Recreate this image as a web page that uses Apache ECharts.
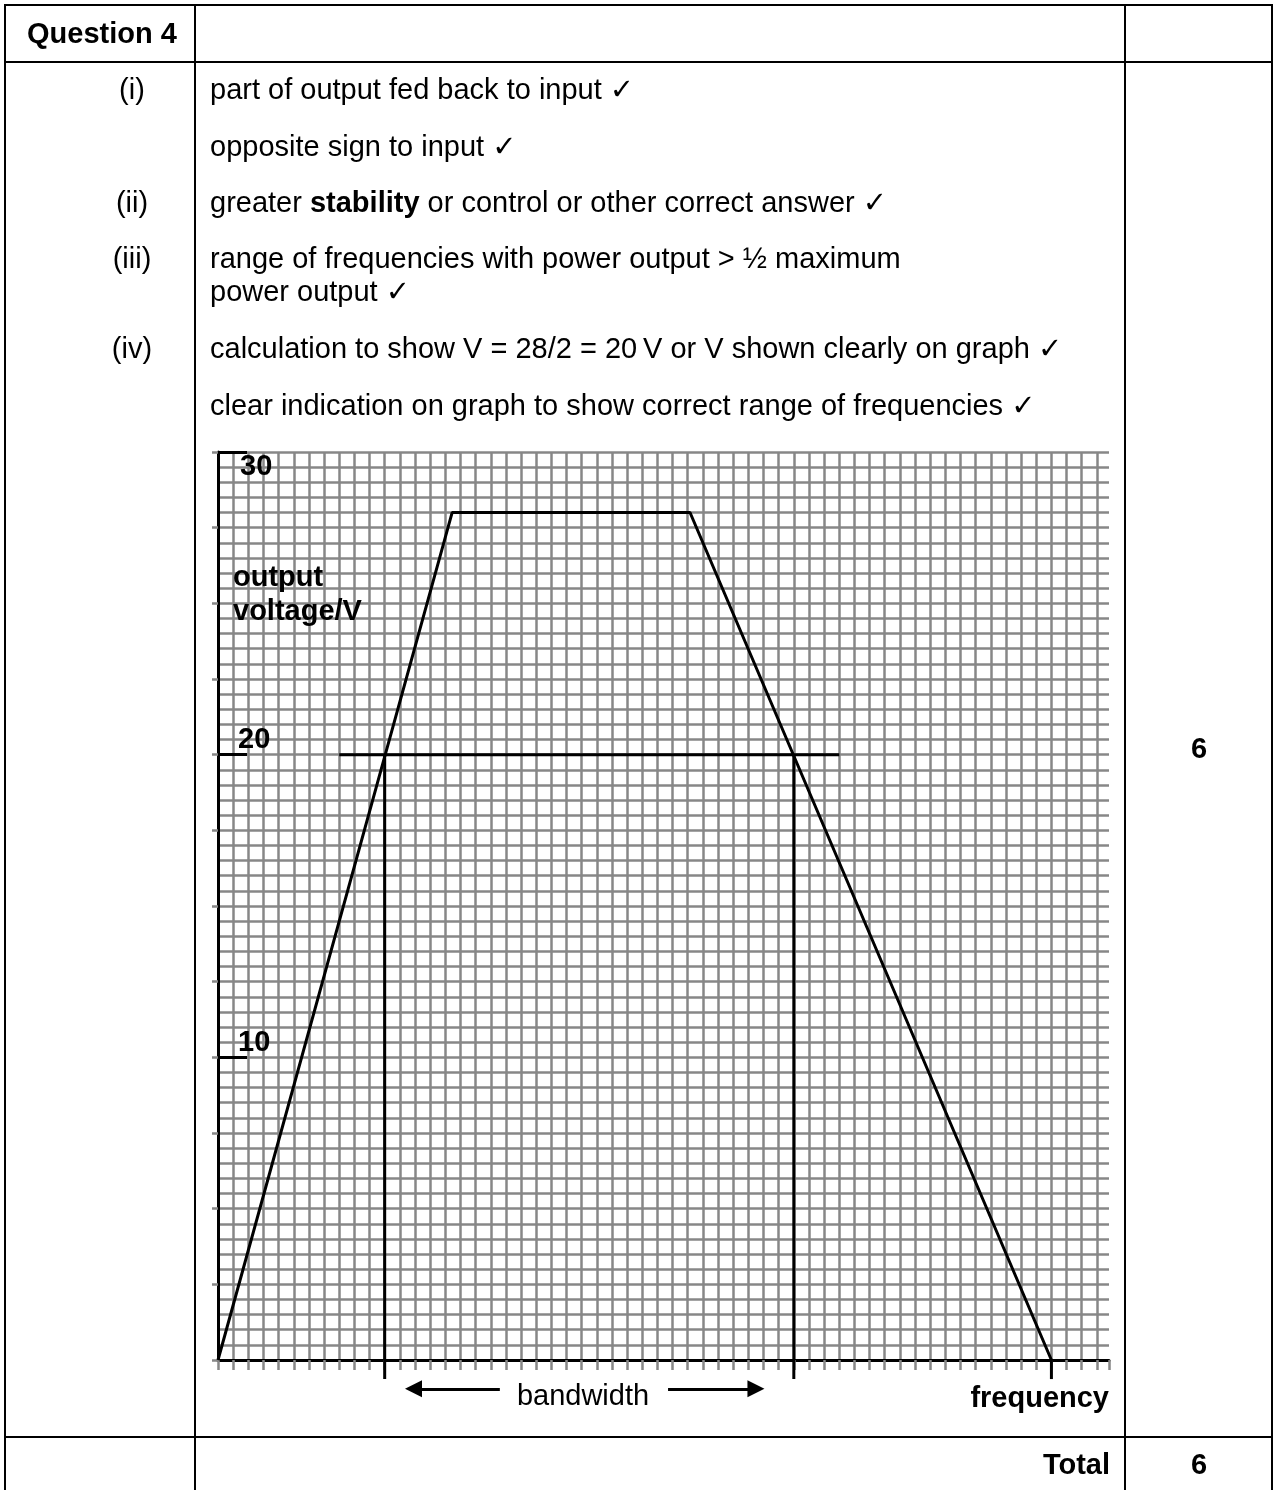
<!DOCTYPE html>
<html>
<head>
<meta charset="utf-8">
<title>Question 4</title>
<script src="https://cdn.jsdelivr.net/npm/echarts@6/dist/echarts.min.js"></script>
<style>
  html, body { margin: 0; padding: 0; background: #fff; }
  #main { width: 1274px; height: 1490px; }
</style>
</head>
<body>
<div id="main"></div>
<script>
// response curve: frequency in grid squares, output voltage in V
var freq = [0, 15.45, 31.15, 55];
var volt = [0, 28, 28, 0];
// half power construction line and the bandwidth edges
var halfX = [8, 41];
var halfV = 20;
var bandEdges = [11, 38];
var endFreq = 55;
var dropTo = -0.63;
// bandwidth arrows [tail, head]
var arrowY = -0.95;
var arrowLeft = [18.6, 12.9];
var arrowRight = [29.7, 35.5];
// axes
var xMax = 58.8;
var yMax = 30;
var yLabels = [10, 20, 30];

// table text
var partLabels = ['(i)', '(ii)', '(iii)', '(iv)'];
var answerLines = [
  'part of output fed back to input \u2713',
  'opposite sign to input \u2713',
  'greater {b|stability} or control or other correct answer \u2713',
  'range of frequencies with power output > \u00bd maximum',
  'power output \u2713',
  'calculation to show V = 28/2 = 20\u2009V or V shown clearly on graph \u2713',
  'clear indication on graph to show correct range of frequencies \u2713'
];
var marks = '6';
var totalMarks = '6';

var FONT = "'Liberation Sans', Arial, 'DejaVu Sans', sans-serif";
var FS = 29;
var gridColor = '#878787';

var chart = echarts.init(document.getElementById('main'));

function txt(x, y, text, opts) {
  opts = opts || {};
  var style = {
    text: text,
    fill: '#000',
    fontSize: FS,
    fontFamily: FONT,
    fontWeight: opts.bold ? 'bold' : 'normal',
    align: opts.align || 'left',
    textAlign: opts.align || 'left',
    verticalAlign: 'middle',
    textVerticalAlign: 'middle'
  };
  if (opts.lineHeight) style.lineHeight = opts.lineHeight;
  if (opts.rich) style.rich = opts.rich;
  return { type: 'text', x: x, y: y, z: 10, style: style };
}

function hline(y, x1, x2) {
  return { type: 'line', z: 10, shape: { x1: x1, y1: y, x2: x2, y2: y }, style: { stroke: '#000', lineWidth: 2 } };
}
function vline(x, y1, y2) {
  return { type: 'line', z: 10, shape: { x1: x, y1: y1, x2: x, y2: y2 }, style: { stroke: '#000', lineWidth: 2 } };
}

var rowY = [91, 148, 204, 260, 293, 350, 407];
var labelRows = [0, 2, 3, 5];

var graphics = [
  hline(5, 4, 1273), hline(62, 4, 1273), hline(1437, 4, 1273),
  vline(5, 4, 1490), vline(195, 4, 1490), vline(1125, 4, 1490), vline(1272, 4, 1490),
  txt(27, 35, 'Question 4', { bold: true }),
  txt(1199, 750, marks, { bold: true, align: 'center' }),
  txt(1110, 1466, 'Total', { bold: true, align: 'right' }),
  txt(1199, 1466, totalMarks, { bold: true, align: 'center' }),
  txt(233, 595, 'output\nvoltage/V', { bold: true, lineHeight: 34 }),
  txt(583, 1397, 'bandwidth', { align: 'center' }),
  txt(1109, 1399, 'frequency', { bold: true, align: 'right' })
];
partLabels.forEach(function (p, i) {
  graphics.push(txt(132, rowY[labelRows[i]], p, { align: 'center' }));
});
answerLines.forEach(function (a, i) {
  graphics.push(txt(210, rowY[i], a, {
    rich: { b: { fontSize: FS, fontFamily: FONT, fontWeight: 'bold', fill: '#000' } }
  }));
});

var blackLine = { color: '#000', width: 3 };

chart.setOption({
  animation: false,
  backgroundColor: '#fff',
  grid: { left: 218, top: 452, width: 891, height: 908, containLabel: false, outerBoundsMode: 'none' },
  xAxis: [{
    type: 'value', min: 0, max: xMax, interval: 1,
    axisLine: { show: true, onZero: false, lineStyle: blackLine },
    axisTick: { show: true, length: 10, lineStyle: { color: gridColor, width: 2.5 } },
    axisLabel: { show: false },
    splitLine: { show: true, showMinLine: false, showMaxLine: false, lineStyle: { color: gridColor, width: 2.5 } }
  }],
  yAxis: [{
    // fine grid
    type: 'value', position: 'left', offset: 0, min: 0, max: yMax, interval: 0.5,
    axisLine: { show: true, onZero: false, lineStyle: blackLine },
    axisTick: { show: false },
    axisLabel: { show: false },
    splitLine: { show: true, showMinLine: false, lineStyle: { color: gridColor, width: 2.5 } }
  }, {
    // small outside ticks every 2.5 V
    type: 'value', position: 'left', offset: 0, min: 0, max: yMax, interval: 2.5,
    axisLine: { show: false },
    axisTick: { show: true, length: 6, lineStyle: { color: gridColor, width: 2.5 } },
    axisLabel: { show: false },
    splitLine: { show: false }
  }, {
    // major ticks and 10 / 20 labels
    type: 'value', position: 'left', offset: 0, min: 0, max: yMax, interval: 10,
    axisLine: { show: false },
    axisTick: { show: true, inside: true, length: 29, lineStyle: blackLine },
    axisLabel: {
      show: true, inside: true, margin: 20, align: 'left', verticalAlign: 'bottom',
      fontSize: FS, fontFamily: FONT, fontWeight: 'bold', color: '#000',
      formatter: function (v) { return (v > 0 && v < yMax && yLabels.indexOf(v) >= 0) ? String(v) : ''; }
    },
    splitLine: { show: false }
  }, {
    // top label sits below its tick
    type: 'value', position: 'left', offset: 0, min: 0, max: yMax, interval: 10,
    axisLine: { show: false },
    axisTick: { show: false },
    axisLabel: {
      show: true, inside: true, margin: 22, align: 'left', verticalAlign: 'top',
      fontSize: FS, fontFamily: FONT, fontWeight: 'bold', color: '#000',
      formatter: function (v) { return v === yMax ? String(v) : ''; }
    },
    splitLine: { show: false }
  }],
  series: [{
    type: 'line', name: 'output voltage', symbol: 'none', z: 5,
    data: freq.map(function (f, i) { return [f, volt[i]]; }),
    lineStyle: blackLine
  }, {
    type: 'line', symbol: 'none', z: 5,
    data: halfX.map(function (x) { return [x, halfV]; }),
    lineStyle: blackLine
  }, {
    type: 'line', symbol: 'none', z: 5, clip: false,
    data: [[bandEdges[0], halfV], [bandEdges[0], dropTo]],
    lineStyle: blackLine
  }, {
    type: 'line', symbol: 'none', z: 5, clip: false,
    data: [[bandEdges[1], halfV], [bandEdges[1], dropTo]],
    lineStyle: blackLine
  }, {
    type: 'line', symbol: 'none', z: 5, clip: false,
    data: [[endFreq, 0], [endFreq, dropTo]],
    lineStyle: blackLine
  }, {
    type: 'lines', coordinateSystem: 'cartesian2d', clip: false, z: 5,
    symbol: ['none', 'triangle'], symbolSize: [14, 17],
    lineStyle: { color: '#000', width: 3, opacity: 1, curveness: 0 },
    data: [
      { coords: [[arrowLeft[0], arrowY], [arrowLeft[1], arrowY]] },
      { coords: [[arrowRight[0], arrowY], [arrowRight[1], arrowY]] }
    ]
  }],
  graphic: graphics
});
</script>
</body>
</html>
